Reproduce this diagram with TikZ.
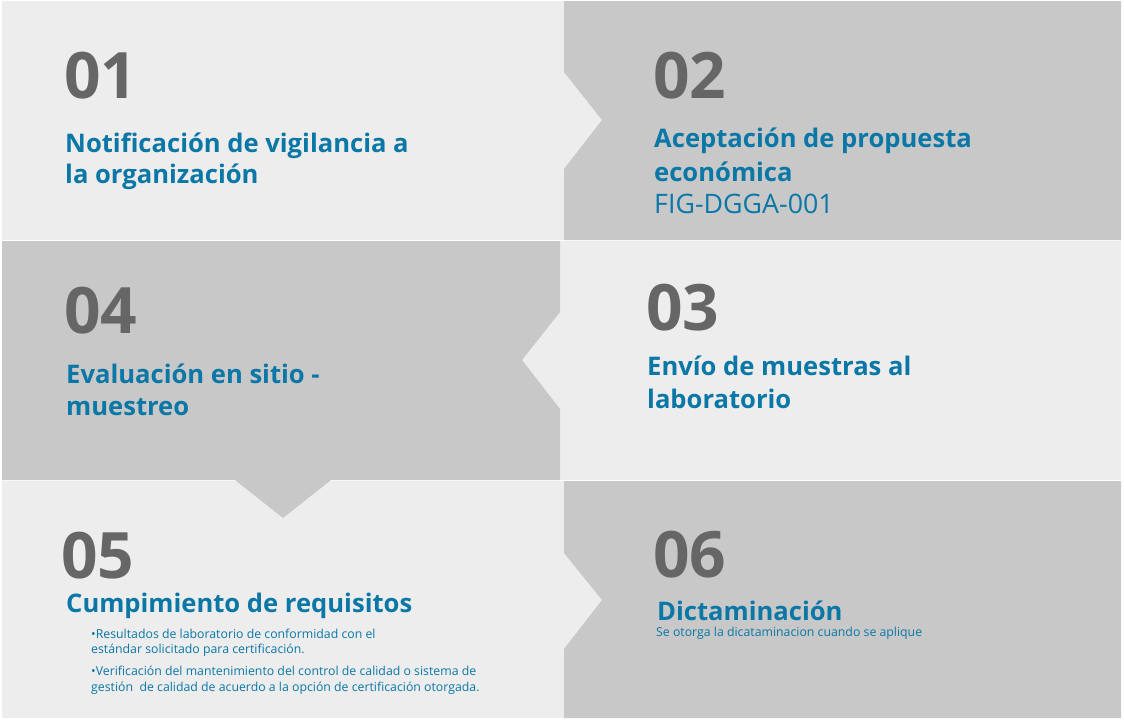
\documentclass[tikz,border=0pt]{standalone}
\usepackage{fontspec}
\setmainfont{Open Sans}
\definecolor{lightp}{HTML}{EDEDED}
\definecolor{darkp}{HTML}{C8C8C8}
\definecolor{numg}{HTML}{666666}
\definecolor{txtb}{HTML}{0A77A6}
\tikzset{
  num/.style={anchor=base west, inner sep=0pt, text=numg, font=\fontsize{64}{64}\selectfont\bfseries},
  ttl/.style={anchor=base west, inner sep=0pt, text=txtb, font=\fontsize{25.6}{31}\selectfont\bfseries},
  sub/.style={anchor=base west, inner sep=0pt, text=txtb, font=\fontsize{26.8}{31}\selectfont},
  small/.style={anchor=base west, inner sep=0pt, text=txtb, font=\fontsize{12.3}{15.5}\selectfont},
}
\begin{document}
\begin{tikzpicture}[x=1pt,y=-1pt]
\useasboundingbox[fill=white] (0,0) rectangle (1124,721);
% row 1
\fill[lightp] (2,1) rectangle (604,240);
\fill[darkp] (564,1) -- (1121,1) -- (1121,240) -- (564,240) -- (564,169) -- (602,120) -- (564,72) -- cycle;
% row 3
\fill[lightp] (2,481) rectangle (604,718);
\fill[darkp] (564,481) -- (1121,481) -- (1121,718) -- (564,718) -- (564,649) -- (602,600) -- (564,553) -- cycle;
% row 2
\fill[lightp] (520,241) rectangle (1121,480);
\fill[darkp] (2,241) -- (560,241) -- (560,312) -- (522,360) -- (560,409) -- (560,480) -- (331,480) -- (283,518) -- (235,480) -- (2,480) -- cycle;

% texts
\node[num] (n1) at (64,98) {01};
\node[ttl] (t1a) at (65,152) {Notificación de vigilancia a};
\node[ttl] (t1b) at (65,183) {la organización};

\node[num] (n2) at (653,98) {02};
\node[ttl] (t2a) at (654,147) {Aceptación de propuesta};
\node[ttl] (t2b) at (654,181) {económica};
\node[sub] (t2c) at (654,213) {FIG-DGGA-001};

\node[num] (n4) at (64,333) {04};
\node[ttl] (t4a) at (66,383) {Evaluación en sitio -};
\node[ttl] (t4b) at (66,415) {muestreo};

\node[num] (n3) at (646,330) {03};
\node[ttl] (t3a) at (647,375) {Envío de muestras al};
\node[ttl] (t3b) at (647,408) {laboratorio};

\node[num] (n5) at (61,578) {05};
\node[ttl] (t5) at (66,612) {Cumpimiento de requisitos};
\node[small] (b1a) at (91,638) {•Resultados de laboratorio de conformidad con el};
\node[small] (b1b) at (91,653) {estándar solicitado para certificación.};
\node[small] (b2a) at (91,675) {•Verificación del mantenimiento del control de calidad o sistema de};
\node[small] (b2b) at (91,691) {gestión\ \ de calidad de acuerdo a la opción de certificación otorgada.};

\node[num] (n6) at (653,577) {06};
\node[ttl] (t6) at (657,620) {Dictaminación};
\node[small] (t6s) at (656,636) {Se otorga la dicataminacion cuando se aplique};
\end{tikzpicture}
\end{document}
